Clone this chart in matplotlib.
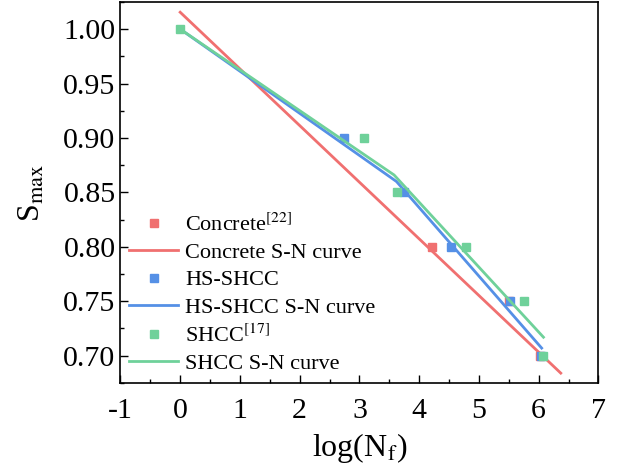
import numpy as np
import matplotlib.pyplot as plt
from matplotlib.ticker import MultipleLocator

plt.rcParams['font.family'] = ['Liberation Serif', 'DejaVu Serif']
plt.rcParams['mathtext.fontset'] = 'stix'
plt.rcParams['axes.unicode_minus'] = False

# fatigue test points: log(Nf) vs Smax
conc_logN = [4.22, 5.50, 6.03]
conc_S = [0.80, 0.75, 0.70]
hs_logN = [2.75, 3.75, 4.53, 5.52, 6.04]
hs_S = [0.90, 0.85, 0.80, 0.75, 0.70]
shcc_logN = [0.0, 3.08, 3.63, 4.78, 5.75, 6.07]
shcc_S = [1.00, 0.90, 0.85, 0.80, 0.75, 0.70]

# S-N curves (end points / kink points)
conc_fit_x = [0.0, 6.37]
conc_fit_y = [1.0155, 0.684]
hs_fit_x = [0.0, 3.62, 6.05]
hs_fit_y = [1.000, 0.860, 0.707]
shcc_fit_x = [0.0, 3.58, 6.08]
shcc_fit_y = [1.000, 0.866, 0.717]

c_red = '#f07070'
c_blue = '#5590e6'
c_green = '#6fd19a'

fig = plt.figure(figsize=(6.24, 4.71), dpi=100)
ax = fig.add_axes([0.193, 0.187, 0.766, 0.809])

ax.plot(conc_logN, conc_S, 's', color=c_red, ms=6, ls='none', label='Concrete$^{[22]}$')
ax.plot(conc_fit_x, conc_fit_y, '-', color=c_red, lw=2, label='Concrete S-N curve')
ax.plot(hs_logN, hs_S, 's', color=c_blue, ms=6, ls='none', label='HS-SHCC')
ax.plot(hs_fit_x, hs_fit_y, '-', color=c_blue, lw=2, label='HS-SHCC S-N curve')
ax.plot(shcc_logN, shcc_S, 's', color=c_green, ms=6, ls='none', label='SHCC$^{[17]}$')
ax.plot(shcc_fit_x, shcc_fit_y, '-', color=c_green, lw=2, label='SHCC S-N curve')

ax.set_xlim(-1, 7)
ax.set_ylim(0.675, 1.025)
ax.xaxis.set_major_locator(MultipleLocator(1))
ax.xaxis.set_minor_locator(MultipleLocator(0.5))
ax.yaxis.set_major_locator(MultipleLocator(0.05))
ax.yaxis.set_minor_locator(MultipleLocator(0.025))
ax.yaxis.set_major_formatter(plt.FormatStrFormatter('%.2f'))
ax.tick_params(which='both', direction='in', labelsize=21.5, top=False, right=False)
ax.tick_params(which='major', length=6, width=1)
ax.tick_params(which='minor', length=3, width=1)
ax.tick_params(axis='x', pad=11)
for s in ax.spines.values():
    s.set_linewidth(1.2)

ax.set_xlabel('log(N$_\\mathrm{f}$)', fontsize=23, labelpad=5)
ax.set_ylabel('S$_\\mathrm{max}$', fontsize=23, labelpad=12)

ax.legend(loc='lower left', frameon=False, fontsize=16, handlelength=2.2,
          labelspacing=0.3, borderaxespad=0.0, handletextpad=0.3,
          bbox_to_anchor=(0.0, 0.0))

fig.savefig('out.png', dpi=100)
